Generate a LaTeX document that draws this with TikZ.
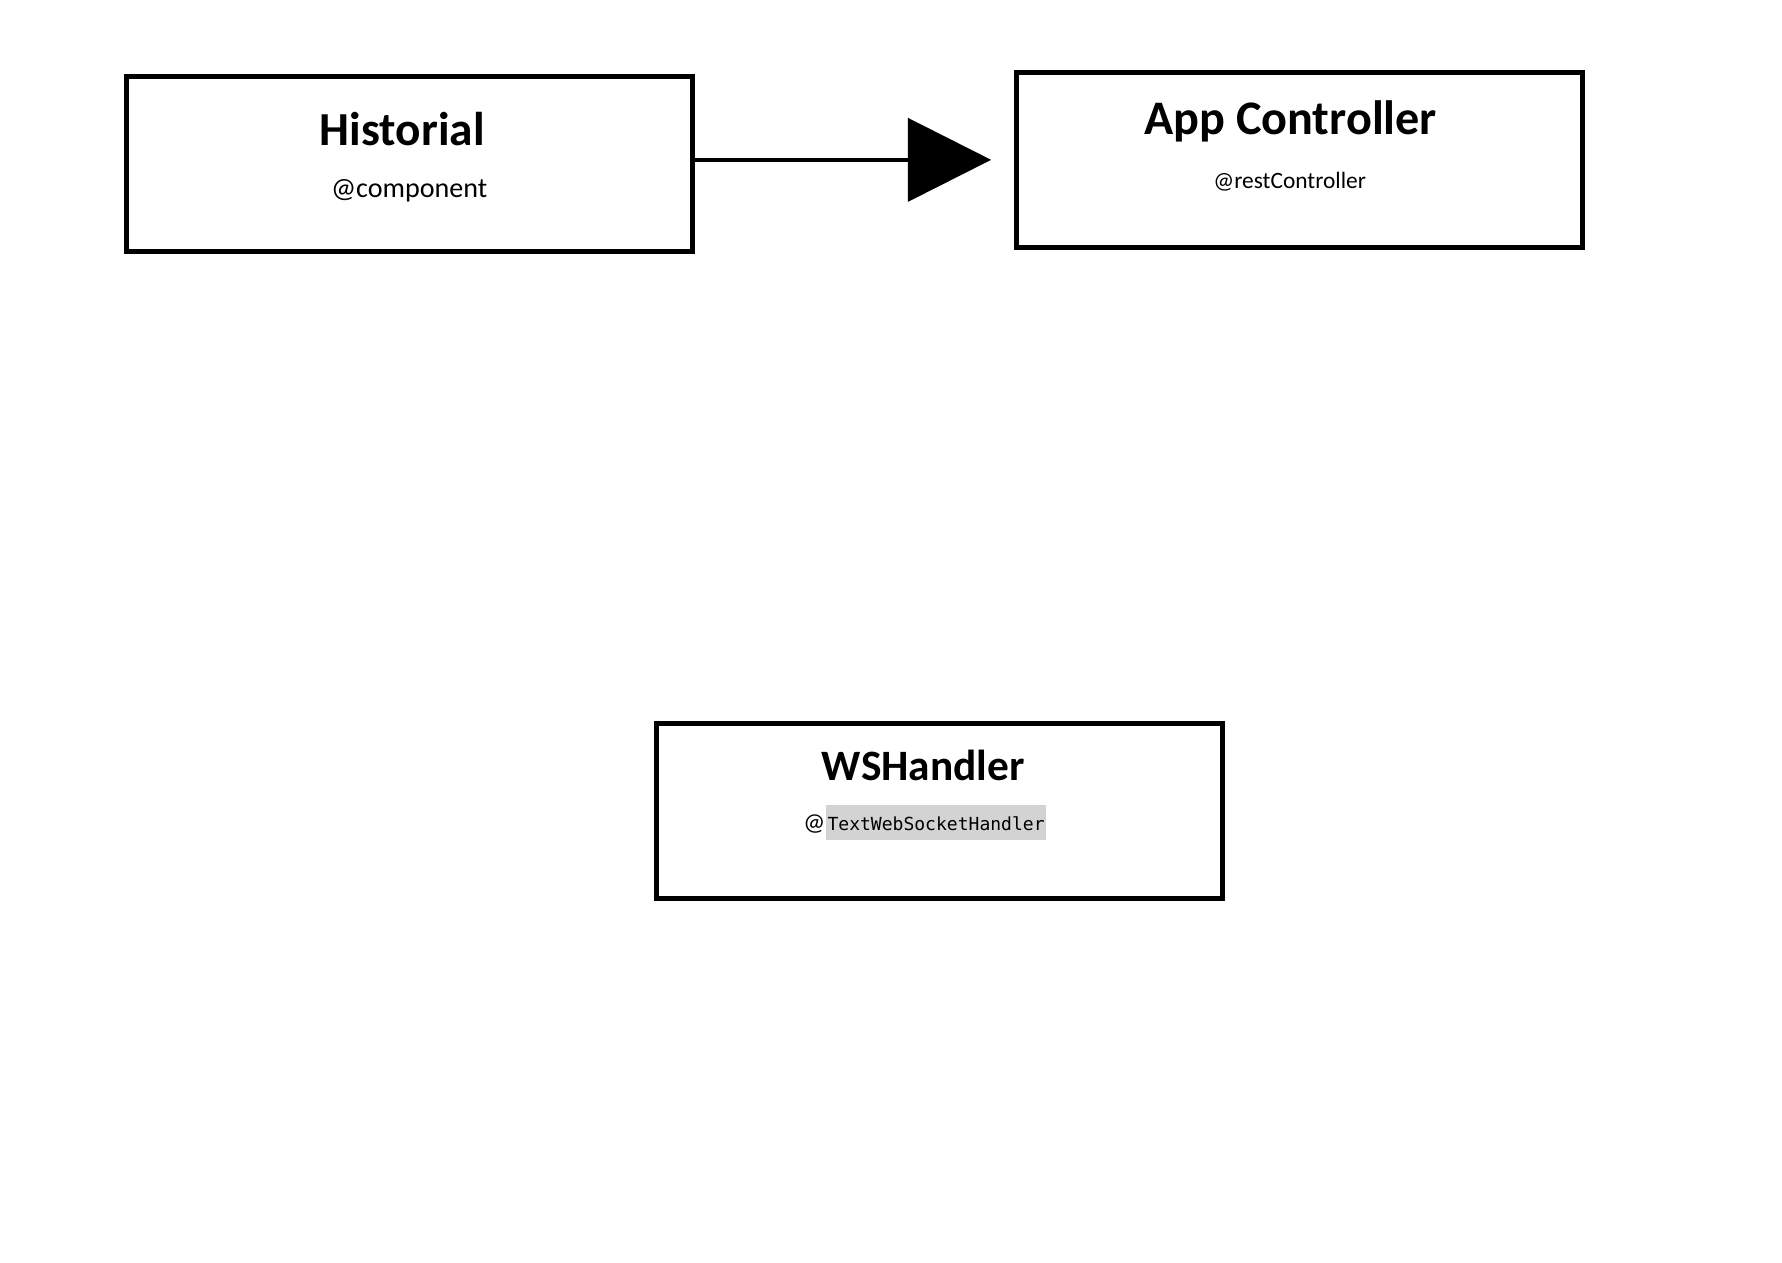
\documentclass[tikz,border=0pt]{standalone}
\usepackage{fontspec}
\setmainfont{Carlito}
\newfontfamily\codefont{DejaVu Sans Mono}
\usetikzlibrary{arrows.meta}
\definecolor{codegray}{RGB}{211,211,211}

\begin{document}
\begin{tikzpicture}[
	box/.style={draw, line width=0.0875cm, minimum width=9.91cm, minimum height=3.064cm},
	title/.style={anchor=base, font=\bfseries\fontsize{23.6}{28}\selectfont},
	note/.style={anchor=base, font=\fontsize{14}{17}\selectfont}]
	\useasboundingbox (0,0) rectangle (31.2,22.11);
	\node[box] (hist) at (7.17,19.241) {};
	\node[box] (app) at (22.752,19.311) {};
	\node[box] (ws) at (16.449,7.914) {};
	\node[title] (histtitle) at (7.044,19.556) {Historial};
	\node[note] (histnote) at (7.164,18.646) {@component};
	\node[title, font=\bfseries\fontsize{24}{29}\selectfont] (apptitle) at (22.596,19.749) {App Controller};
	\node[note, font=\fontsize{11.66}{14}\selectfont] (appnote) at (22.58,18.803) {@restController};
	\node[title, font=\bfseries\fontsize{21.6}{26}\selectfont] (wstitle) at (16.165,8.439) {WSHandler};
	\node[anchor=base west, inner sep=0pt, font=\fontsize{12.2}{14}\selectfont] (wsat) at (14.059,7.569) {@};
	\node[anchor=base west, fill=codegray, inner xsep=0.026cm, inner ysep=0pt, text height=0.45cm, text depth=0.163cm, font=\codefont\fontsize{8.98}{11}\selectfont] (wscode) at (wsat.base east) {TextWebSocketHandler};
	\draw[line width=0.058cm, -{Triangle[length=1.46cm,width=1.46cm]}, shorten >=0.40cm] (hist.east |- app.west) -- (app.west);
\end{tikzpicture}
\end{document}
